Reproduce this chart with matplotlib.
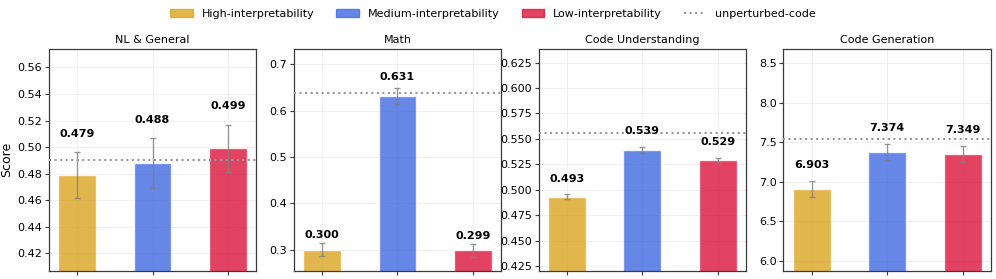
import matplotlib.pyplot as plt
import matplotlib.patches as mpatches
from matplotlib.lines import Line2D
import numpy as np

tasks = ["NL & General", "Math", "Code Understanding", "Code Generation"]
levels = ["High-interpretability", "Medium-interpretability", "Low-interpretability"]
colors = ["#DAA520", "#4169E1", "#DC143C"]

scores = [
    [0.479, 0.488, 0.499],
    [0.300, 0.631, 0.299],
    [0.493, 0.539, 0.529],
    [6.903, 7.374, 7.349],
]
errors = [
    [0.0175, 0.019, 0.018],
    [0.0145, 0.017, 0.014],
    [0.0026, 0.0026, 0.0025],
    [0.10, 0.10, 0.10],
]
baselines = [0.490, 0.637, 0.5555, 7.542]
ylims = [(0.407, 0.574), (0.255, 0.733), (0.4204, 0.6385), (5.873, 8.681)]
yticks = [
    [0.42, 0.44, 0.46, 0.48, 0.50, 0.52, 0.54, 0.56],
    [0.3, 0.4, 0.5, 0.6, 0.7],
    [0.425, 0.450, 0.475, 0.500, 0.525, 0.550, 0.575, 0.600, 0.625],
    [6.0, 6.5, 7.0, 7.5, 8.0, 8.5],
]
ytick_fmt = ["{:.2f}", "{:g}", "{:.3f}", "{:.1f}"]

fig, axes = plt.subplots(1, 4, figsize=(9.96, 2.79), dpi=100)
fig.subplots_adjust(left=0.049, right=0.995, bottom=0.03, top=0.825, wspace=0.18)

x = np.arange(len(levels))
for i, ax in enumerate(axes):
    vals = np.array(scores[i])
    errs = np.array(errors[i])
    ax.bar(x, vals, 0.5, color=colors, alpha=0.8, edgecolor="white",
           linewidth=1, zorder=2)
    ax.errorbar(x, vals, yerr=errs, fmt="none", ecolor="gray", elinewidth=1,
                capsize=2, alpha=0.8, zorder=3)
    ax.axhline(baselines[i], color="#999999", linestyle=":", linewidth=1.5, zorder=4)
    for xi, v, e in zip(x, vals, errs):
        ax.text(xi, v + e + 0.02 * v, f"{v:.3f}", ha="center", va="bottom",
                fontsize=8, fontweight="bold", zorder=5)
    ax.set_ylim(*ylims[i])
    ax.set_yticks(yticks[i])
    ax.set_yticklabels([ytick_fmt[i].format(t) for t in yticks[i]], fontsize=8)
    ax.set_xticks(x)
    ax.set_xticklabels([])
    ax.set_title(tasks[i], fontsize=8, pad=4)
    ax.grid(True, color="#eeeeee", linewidth=0.6, zorder=0)
    ax.set_axisbelow(True)
    for s in ax.spines.values():
        s.set_color("#3a3a3a")
        s.set_linewidth(0.9)
    ax.tick_params(length=3, width=0.8, color="#3a3a3a", pad=2)

axes[0].set_ylabel("Score", fontsize=9, labelpad=3)

handles = [mpatches.Patch(color=c, alpha=0.8, label=l) for c, l in zip(colors, levels)]
handles.append(Line2D([0], [0], color="#999999", linestyle=":", linewidth=1.5,
                      label="unperturbed-code"))
fig.legend(handles=handles, loc="center", bbox_to_anchor=(0.495, 0.95), ncol=4,
           frameon=False, fontsize=8, columnspacing=2.0, handlelength=2.0)

plt.savefig("out.png", dpi=100)
